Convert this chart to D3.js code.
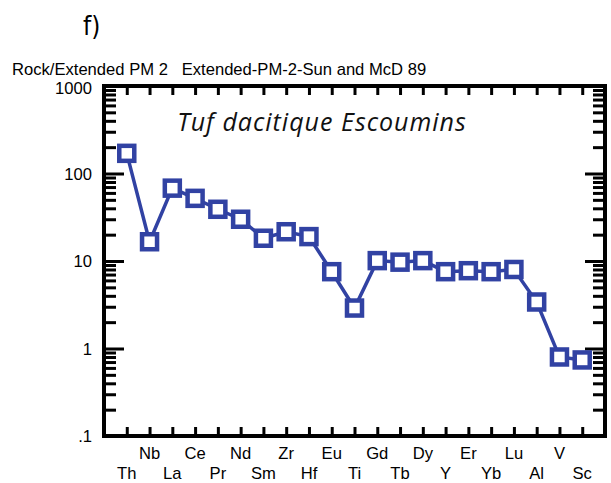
<!DOCTYPE html>
<html>
<head>
<meta charset="utf-8">
<script src="https://cdn.jsdelivr.net/npm/d3@7"></script>
<style>
  body { margin: 0; background: #fff; }
  svg { display: block; }
</style>
</head>
<body>
<div id="chart"></div>
<script>
// Elements along the x axis (Extended PM 2 order)
const elements = ["Th", "Nb", "La", "Ce", "Pr", "Nd", "Sm", "Zr", "Hf", "Eu", "Ti",
                  "Gd", "Tb", "Dy", "Y", "Er", "Yb", "Lu", "Al", "V", "Sc"];
// Rock / primitive mantle values
const values = [170, 16.6, 68, 52, 39, 30, 18.2, 21.6, 19.0, 7.55, 2.9,
                10.1, 9.7, 10.1, 7.55, 7.75, 7.55, 8.0, 3.4, 0.8, 0.74];
const yTicks = [0.1, 1, 10, 100, 1000];
const yTickLabels = [".1", "1", "10", "100", "1000"];

const width = 611;
const height = 483;
const margin = { top: 86, right: 6, bottom: 47, left: 104 };
const blue = "#3142a3";
const font = "'Liberation Sans', Arial, sans-serif";

const svg = d3.select("#chart")
  .append("svg")
  .attr("width", width)
  .attr("height", height);

const x = d3.scaleLinear()
  .domain([-1, elements.length])
  .range([margin.left, width - margin.right]);

const y = d3.scaleLog()
  .domain([0.1, 1000])
  .range([height - margin.bottom, margin.top]);

// minor ticks 2..9 in each decade
const minor = [];
for (let d = 0.1; d < 1000; d *= 10) {
  for (let k = 2; k <= 9; k++) minor.push(+(d * k).toPrecision(3));
}

// Panel letter and header
svg.append("text")
  .attr("x", 83)
  .attr("y", 35)
  .attr("font-family", "'Liberation Sans Narrow', 'DejaVu Sans Condensed', sans-serif")
  .attr("font-size", 26)
  .text("f)");

svg.append("text")
  .attr("x", 12)
  .attr("y", 75)
  .attr("font-family", font)
  .attr("font-size", 16.6)
  .attr("xml:space", "preserve")
  .text("Rock/Extended PM 2   Extended-PM-2-Sun and McD 89");

// Axes: ticks pointing inward
const x0 = margin.left, x1 = width - margin.right;
const y0 = height - margin.bottom, y1 = margin.top;

svg.append("g")
  .attr("transform", `translate(${x0},0)`)
  .call(d3.axisRight(y).tickValues(minor).tickSize(12).tickFormat(""));
svg.append("g")
  .attr("transform", `translate(${x0},0)`)
  .call(d3.axisRight(y).tickValues(yTicks).tickSize(20).tickFormat(""));
svg.append("g")
  .attr("transform", `translate(${x1},0)`)
  .call(d3.axisLeft(y).tickValues(minor).tickSize(12).tickFormat(""));
svg.append("g")
  .attr("transform", `translate(${x1},0)`)
  .call(d3.axisLeft(y).tickValues(yTicks).tickSize(20).tickFormat(""));

const idx = d3.range(elements.length);
svg.append("g")
  .attr("transform", `translate(0,${y0})`)
  .call(d3.axisTop(x).tickValues(idx).tickSize(9).tickFormat(""));
svg.append("g")
  .attr("transform", `translate(0,${y1})`)
  .call(d3.axisBottom(x).tickValues(idx).tickSize(9).tickFormat(""));

svg.selectAll(".tick line")
  .attr("stroke", "#000")
  .attr("stroke-width", 3);
svg.selectAll(".domain").remove();

// Frame
svg.append("rect")
  .attr("x", x0)
  .attr("y", y1)
  .attr("width", x1 - x0)
  .attr("height", y0 - y1)
  .attr("fill", "none")
  .attr("stroke", "#000")
  .attr("stroke-width", 4);

// Y labels (the top one sits a little lower, as in the original)
svg.append("g")
  .selectAll("text")
  .data(yTicks)
  .join("text")
  .attr("x", 92)
  .attr("y", d => y(d) + (d === 1000 ? 8 : 6))
  .attr("text-anchor", "end")
  .attr("font-family", font)
  .attr("font-size", 16.6)
  .text((d, i) => yTickLabels[i]);

// X labels, two staggered rows
svg.append("g")
  .selectAll("text")
  .data(elements)
  .join("text")
  .attr("x", (d, i) => x(i))
  .attr("y", (d, i) => i % 2 === 0 ? 479 : 459)
  .attr("text-anchor", "middle")
  .attr("font-family", font)
  .attr("font-size", 16.6)
  .text(d => d);

// Sample name
svg.append("text")
  .attr("x", 322)
  .attr("y", 131)
  .attr("text-anchor", "middle")
  .attr("font-family", "'Open Sans', sans-serif")
  .attr("font-style", "italic")
  .attr("font-size", 25)
  .attr("letter-spacing", 1)
  .attr("fill", "#111")
  .text("Tuf dacitique Escoumins");

// Profile line and markers
const line = d3.line()
  .x((d, i) => x(i))
  .y(d => y(d));

svg.append("path")
  .datum(values)
  .attr("d", line)
  .attr("fill", "none")
  .attr("stroke", blue)
  .attr("stroke-width", 3.5);

const s = 15;
svg.append("g")
  .selectAll("rect")
  .data(values)
  .join("rect")
  .attr("x", (d, i) => x(i) - s / 2)
  .attr("y", d => y(d) - s / 2)
  .attr("width", s)
  .attr("height", s)
  .attr("fill", "#fff")
  .attr("stroke", blue)
  .attr("stroke-width", 4.5);
</script>
</body>
</html>
